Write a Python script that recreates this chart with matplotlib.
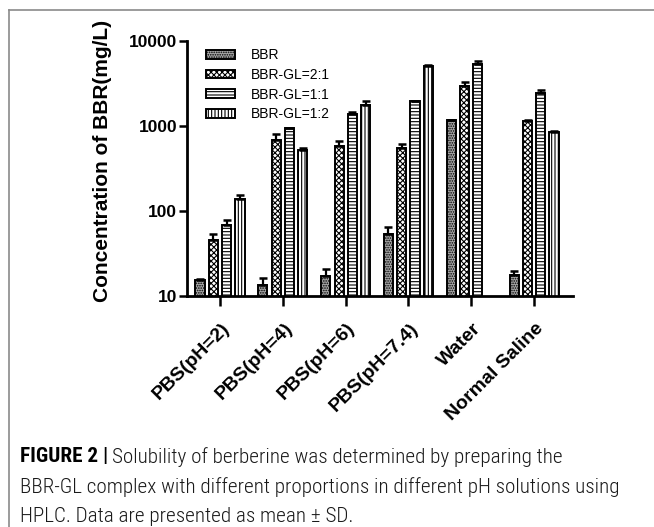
import numpy as np
import matplotlib
matplotlib.use("Agg")
import matplotlib.pyplot as plt
import matplotlib.transforms as mtrans
from matplotlib import font_manager
from matplotlib.lines import Line2D

plt.rcParams['font.family'] = ['Liberation Sans', 'DejaVu Sans']
plt.rcParams['hatch.linewidth'] = 0.8

# --- data (mg/L) ---
conditions = ['PBS(pH=2)', 'PBS(pH=4)', 'PBS(pH=6)', 'PBS(pH=7.4)', 'Water', 'Normal Saline']
series = ['BBR', 'BBR-GL=2:1', 'BBR-GL=1:1', 'BBR-GL=1:2']

bbr_mean = [15.4, 13.5, 17.2, 53.5, 1170, 17.7]
bbr_sd = [0.5, 3.0, 3.4, 11.0, 15, 2.0]
gl21_mean = [45.5, 680, 585, 553, 2960, 1150]
gl21_sd = [7.5, 115, 85, 58, 340, 20]
gl11_mean = [68, 935, 1375, 1955, 5420, 2460]
gl11_sd = [9.5, 20, 70, 40, 460, 180]
gl12_mean = [137, 529, 1755, 5135, np.nan, 857]
gl12_sd = [17, 20, 240, 100, np.nan, 20]

means = [bbr_mean, gl21_mean, gl11_mean, gl12_mean]
sds = [bbr_sd, gl21_sd, gl11_sd, gl12_sd]

# looks for each series
hatches = ['.......', 'xxxxxx', '-----', '|||||']
faces = ['#a8a8a8', 'white', 'white', 'white']
offsets = [-0.318, -0.104, 0.104, 0.318]
bar_w = 0.145

W, H = 654, 527
fig = plt.figure(figsize=(W / 100, H / 100), dpi=100)
ax = fig.add_axes([187 / W, 1 - 296 / H, (573 - 187) / W, (296 - 41) / H])

x = np.arange(len(conditions))
handles = []
for i in range(len(series)):
    m = np.array(means[i], dtype=float)
    s = np.array(sds[i], dtype=float)
    ok = ~np.isnan(m)
    bars = ax.bar(x[ok] + offsets[i], m[ok], width=bar_w, bottom=0,
                  color=faces[i], edgecolor='black', linewidth=1.4,
                  hatch=hatches[i], label=series[i], zorder=2)
    ax.errorbar(x[ok] + offsets[i], m[ok], yerr=[np.zeros(ok.sum()), s[ok]],
                fmt='none', ecolor='black', elinewidth=1.6, capsize=3,
                capthick=1.8, zorder=3)
    handles.append(bars)

ax.set_yscale('log')
ax.set_ylim(10, 10000)
ax.set_xlim(-0.525, 5.62)
ax.set_yticks([10, 100, 1000, 10000])
ax.set_yticklabels(['10', '100', '1000', '10000'], fontsize=12.5, fontweight='bold')
ax.yaxis.set_minor_locator(matplotlib.ticker.NullLocator())
ax.set_xticks(x)
ax.set_xticklabels(conditions, rotation=45, ha='right', va='center',
                   rotation_mode='anchor', fontsize=14, fontweight='bold')
ax.tick_params(axis='y', direction='out', length=6, width=1.8, pad=1)
ax.tick_params(axis='x', direction='out', length=7, width=1.8, pad=8)
# nudge the slanted labels right/down like the original
shift = mtrans.ScaledTranslation(7 / 100, -9 / 100, fig.dpi_scale_trans)
for lab in ax.get_xticklabels():
    lab.set_transform(lab.get_transform() + shift)

for side in ['top', 'right']:
    ax.spines[side].set_visible(False)
for side in ['left', 'bottom']:
    ax.spines[side].set_linewidth(2)

fig.text(103 / W, 1 - 161 / H, 'Concentration of BBR(mg/L)', rotation=90,
         ha='center', va='center', fontsize=15, fontweight='bold')

leg = ax.legend(handles=handles, loc='upper left',
                bbox_to_anchor=(206 / W, 1 - 48 / H), bbox_transform=fig.transFigure,
                frameon=False, fontsize=10, handlelength=2.1, handleheight=0.6,
                handletextpad=1.1, labelspacing=0.42, borderpad=0, borderaxespad=0)

# thin grey frame around the panel (top and left only visible)
frame = '#8a8a8a'
fig.add_artist(Line2D([9 / W, 9 / W], [0, 1 - 10 / H], color=frame, lw=1.2,
                      transform=fig.transFigure))
fig.add_artist(Line2D([9 / W, 1], [1 - 10 / H, 1 - 10 / H], color=frame, lw=1.2,
                      transform=fig.transFigure))

# caption, in a narrow face when one is installed
names = {f.name for f in font_manager.fontManager.ttflist}
cap_font = 'Liberation Sans'
for cand in ['Roboto Condensed', 'Liberation Sans Narrow', 'Open Sans Condensed', 'Roboto']:
    if cand in names:
        cap_font = cand
        break
cap_lines = ['Solubility of berberine was determined by preparing the',
             'BBR-GL complex with different proportions in different pH solutions using',
             'HPLC. Data are presented as mean \u00b1 SD.']
fig.canvas.draw()
r = fig.canvas.get_renderer()
probe = fig.text(0, 0, cap_lines[1], fontsize=10, family=cap_font, fontweight='light')
pw = probe.get_window_extent(r).width
probe.remove()
cap_size = 10 * (622 - 20) / pw

x0 = 20 / W
y_lines = [457, 487, 516]
head = fig.text(x0, 1 - y_lines[0] / H, 'FIGURE 2 |', fontsize=cap_size, family=cap_font,
                fontweight='bold', va='center', ha='left')
hw = head.get_window_extent(r).width
fig.text(x0 + (hw + 4) / W, 1 - y_lines[0] / H, cap_lines[0], fontsize=cap_size,
         family=cap_font, fontweight='light', va='center', ha='left', color='#1a1a1a')
for line, yy in zip(cap_lines[1:], y_lines[1:]):
    fig.text(x0, 1 - yy / H, line, fontsize=cap_size, family=cap_font,
             fontweight='light', va='center', ha='left', color='#1a1a1a')

fig.savefig('out.png', dpi=100)
